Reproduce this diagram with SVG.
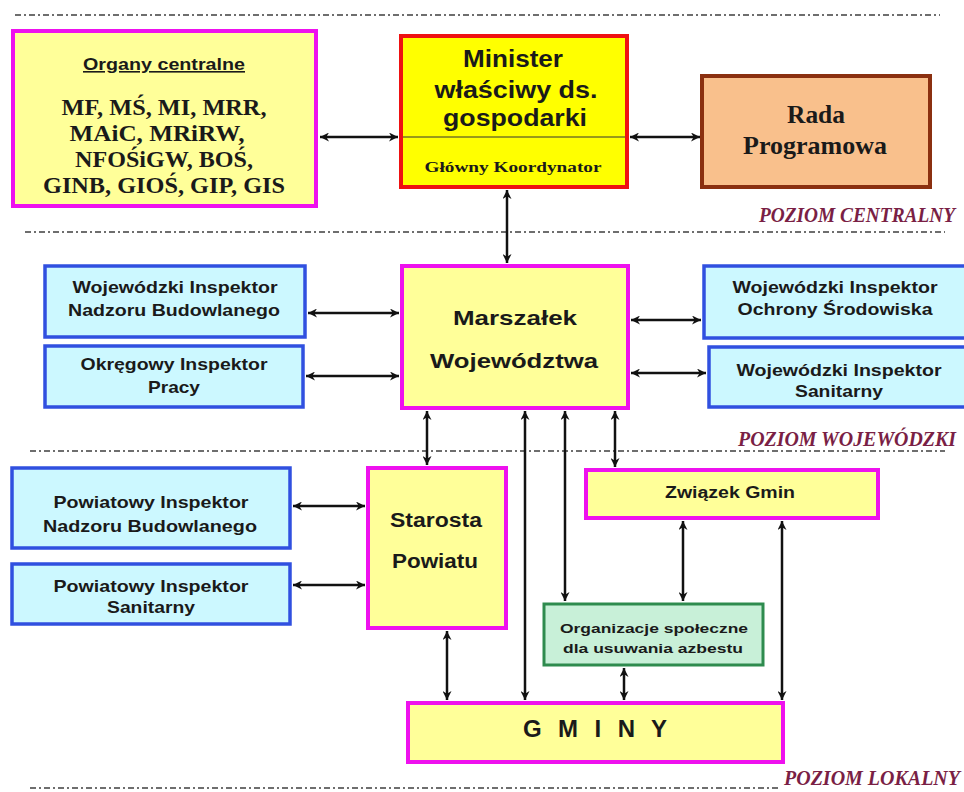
<svg xmlns="http://www.w3.org/2000/svg" width="964" height="792" viewBox="0 0 964 792">
<defs>
<style>
.bg{fill:#ffffff}
.sep{stroke:#6e6e6e;stroke-width:1.8;stroke-dasharray:6 3 2 3;fill:none}
.lvl{font-family:"Liberation Serif",serif;font-weight:bold;font-style:italic;font-size:20px;fill:#7a1f45}
.mag{fill:#ffff99;stroke:#ee11ee;stroke-width:4}
.blue{fill:#ccf8ff;stroke:#3050e0;stroke-width:3.5}
.green{fill:#c8f0d8;stroke:#2e8b4e;stroke-width:3}
.red{fill:#ffff00;stroke:#ee1111;stroke-width:4}
.rada{fill:#f9c08c;stroke:#8b3010;stroke-width:4}
.sans{font-family:"Liberation Sans",Arial,sans-serif;font-weight:bold;fill:#1a1a1a;text-anchor:middle}
.serif{font-family:"Liberation Serif","Times New Roman",serif;font-weight:bold;fill:#1a1a1a;text-anchor:middle}
.conn{stroke:#111111;stroke-width:2.5;fill:none;marker-start:url(#ah);marker-end:url(#ah)}
</style>
<marker id="ah" viewBox="0 0 10 10" refX="10" refY="5" markerWidth="9" markerHeight="9" markerUnits="userSpaceOnUse" orient="auto-start-reverse">
<path d="M0,0 L10,5 L0,10 L3,5 z" fill="#111111"/>
</marker>
</defs>
<rect class="bg" x="0" y="0" width="964" height="792"/>

<g id="separators">
<line class="sep" x1="15" y1="15" x2="940" y2="15"/>
<line class="sep" x1="25" y1="232" x2="945" y2="232"/>
<line class="sep" x1="30" y1="451" x2="945" y2="451"/>
<line class="sep" x1="30" y1="788" x2="780" y2="788"/>
</g>

<g id="levels">
<text class="lvl" x="955" y="222" text-anchor="end" textLength="196" lengthAdjust="spacingAndGlyphs">POZIOM  CENTRALNY</text>
<text class="lvl" x="956" y="446" text-anchor="end" textLength="218" lengthAdjust="spacingAndGlyphs">POZIOM  WOJEWÓDZKI</text>
<text class="lvl" x="960" y="785" text-anchor="end" textLength="176" lengthAdjust="spacingAndGlyphs">POZIOM  LOKALNY</text>
</g>

<g id="organy">
<rect class="mag" x="13" y="31" width="303" height="175"/>
<text class="sans" x="164" y="70" font-size="16" text-decoration="underline" textLength="162" lengthAdjust="spacingAndGlyphs">Organy centralne</text>
<text class="serif" x="164" y="115" font-size="23" textLength="205" lengthAdjust="spacingAndGlyphs">MF, MŚ, MI, MRR,</text>
<text class="serif" x="157" y="141" font-size="23" textLength="175" lengthAdjust="spacingAndGlyphs">MAiC, MRiRW,</text>
<text class="serif" x="164" y="167" font-size="23" textLength="178" lengthAdjust="spacingAndGlyphs">NFOŚiGW, BOŚ,</text>
<text class="serif" x="164" y="193" font-size="23" textLength="242" lengthAdjust="spacingAndGlyphs">GINB, GIOŚ, GIP, GIS</text>
</g>

<g id="minister">
<rect class="red" x="401" y="36" width="226" height="151"/>
<line x1="403" y1="137" x2="625" y2="137" stroke="#333333" stroke-width="1"/>
<text class="sans" x="513" y="67" font-size="23" textLength="100" lengthAdjust="spacingAndGlyphs">Minister</text>
<text class="sans" x="516" y="98" font-size="23" textLength="163" lengthAdjust="spacingAndGlyphs">właściwy ds.</text>
<text class="sans" x="515" y="126" font-size="23" textLength="144" lengthAdjust="spacingAndGlyphs">gospodarki</text>
<text class="serif" x="513" y="172" font-size="15" textLength="177" lengthAdjust="spacingAndGlyphs">Główny Koordynator</text>
</g>

<g id="rada">
<rect class="rada" x="702" y="76" width="228" height="111"/>
<text class="serif" x="816" y="123" font-size="25" textLength="58" lengthAdjust="spacingAndGlyphs">Rada</text>
<text class="serif" x="815" y="154" font-size="25" textLength="144" lengthAdjust="spacingAndGlyphs">Programowa</text>
</g>

<g id="marszalek">
<rect class="mag" x="402" y="266" width="226" height="142"/>
<text class="sans" x="515" y="325" font-size="21" textLength="124" lengthAdjust="spacingAndGlyphs">Marszałek</text>
<text class="sans" x="514" y="368" font-size="21" textLength="168" lengthAdjust="spacingAndGlyphs">Województwa</text>
</g>

<g id="winb">
<rect class="blue" x="45" y="266" width="260" height="71"/>
<text class="sans" x="175" y="293" font-size="16.5" textLength="205" lengthAdjust="spacingAndGlyphs">Wojewódzki Inspektor</text>
<text class="sans" x="174" y="316" font-size="16.5" textLength="212" lengthAdjust="spacingAndGlyphs">Nadzoru Budowlanego</text>
</g>

<g id="oip">
<rect class="blue" x="45" y="346" width="258" height="61"/>
<text class="sans" x="174" y="370" font-size="16.5" textLength="187" lengthAdjust="spacingAndGlyphs">Okręgowy Inspektor</text>
<text class="sans" x="174" y="393" font-size="16.5" textLength="52" lengthAdjust="spacingAndGlyphs">Pracy</text>
</g>

<g id="wios">
<rect class="blue" x="704" y="266" width="262" height="72"/>
<text class="sans" x="835" y="293" font-size="16.5" textLength="205" lengthAdjust="spacingAndGlyphs">Wojewódzki Inspektor</text>
<text class="sans" x="835" y="315" font-size="16.5" textLength="195" lengthAdjust="spacingAndGlyphs">Ochrony Środowiska</text>
</g>

<g id="wis">
<rect class="blue" x="709" y="347" width="257" height="60"/>
<text class="sans" x="839" y="376" font-size="16.5" textLength="205" lengthAdjust="spacingAndGlyphs">Wojewódzki Inspektor</text>
<text class="sans" x="839" y="397" font-size="16.5" textLength="88" lengthAdjust="spacingAndGlyphs">Sanitarny</text>
</g>

<g id="starosta">
<rect class="mag" x="368" y="468" width="138" height="160"/>
<text class="sans" x="436" y="527" font-size="20" textLength="92" lengthAdjust="spacingAndGlyphs">Starosta</text>
<text class="sans" x="435" y="568" font-size="20" textLength="86" lengthAdjust="spacingAndGlyphs">Powiatu</text>
</g>

<g id="pinb">
<rect class="blue" x="12" y="468" width="278" height="80"/>
<text class="sans" x="151" y="508" font-size="16.5" textLength="195" lengthAdjust="spacingAndGlyphs">Powiatowy Inspektor</text>
<text class="sans" x="150" y="532" font-size="16.5" textLength="214" lengthAdjust="spacingAndGlyphs">Nadzoru Budowlanego</text>
</g>

<g id="pis">
<rect class="blue" x="12" y="564" width="278" height="60"/>
<text class="sans" x="151" y="592" font-size="16.5" textLength="195" lengthAdjust="spacingAndGlyphs">Powiatowy Inspektor</text>
<text class="sans" x="151" y="613" font-size="16.5" textLength="88" lengthAdjust="spacingAndGlyphs">Sanitarny</text>
</g>

<g id="zwiazek">
<rect class="mag" x="586" y="470" width="292" height="48"/>
<text class="sans" x="730" y="498" font-size="16" textLength="130" lengthAdjust="spacingAndGlyphs">Związek Gmin</text>
</g>

<g id="organizacje">
<rect class="green" x="544" y="604" width="219" height="61"/>
<text class="sans" x="654" y="633" font-size="13.5" textLength="188" lengthAdjust="spacingAndGlyphs">Organizacje społeczne</text>
<text class="sans" x="653" y="653" font-size="13.5" textLength="180" lengthAdjust="spacingAndGlyphs">dla usuwania azbestu</text>
</g>

<g id="gminy">
<rect class="mag" x="408" y="703" width="375" height="59"/>
<text class="sans" x="595" y="737" font-size="24" textLength="144" lengthAdjust="spacing">G M I N Y</text>
</g>

<g id="connectors">
<line class="conn" x1="320" y1="137" x2="398" y2="137"/>
<line class="conn" x1="630" y1="137" x2="700" y2="137"/>
<line class="conn" x1="507" y1="190" x2="507" y2="263"/>
<line class="conn" x1="308" y1="313" x2="399" y2="313"/>
<line class="conn" x1="306" y1="376" x2="399" y2="376"/>
<line class="conn" x1="631" y1="320" x2="701" y2="320"/>
<line class="conn" x1="631" y1="373" x2="706" y2="373"/>
<line class="conn" x1="427" y1="411" x2="427" y2="465"/>
<line class="conn" x1="525" y1="411" x2="525" y2="700"/>
<line class="conn" x1="565" y1="411" x2="565" y2="601"/>
<line class="conn" x1="615" y1="411" x2="615" y2="467"/>
<line class="conn" x1="293" y1="506" x2="365" y2="506"/>
<line class="conn" x1="293" y1="585" x2="365" y2="585"/>
<line class="conn" x1="447" y1="631" x2="447" y2="700"/>
<line class="conn" x1="683" y1="521" x2="683" y2="601"/>
<line class="conn" x1="782" y1="521" x2="782" y2="700"/>
<line class="conn" x1="624" y1="668" x2="624" y2="700"/>
</g>
</svg>
